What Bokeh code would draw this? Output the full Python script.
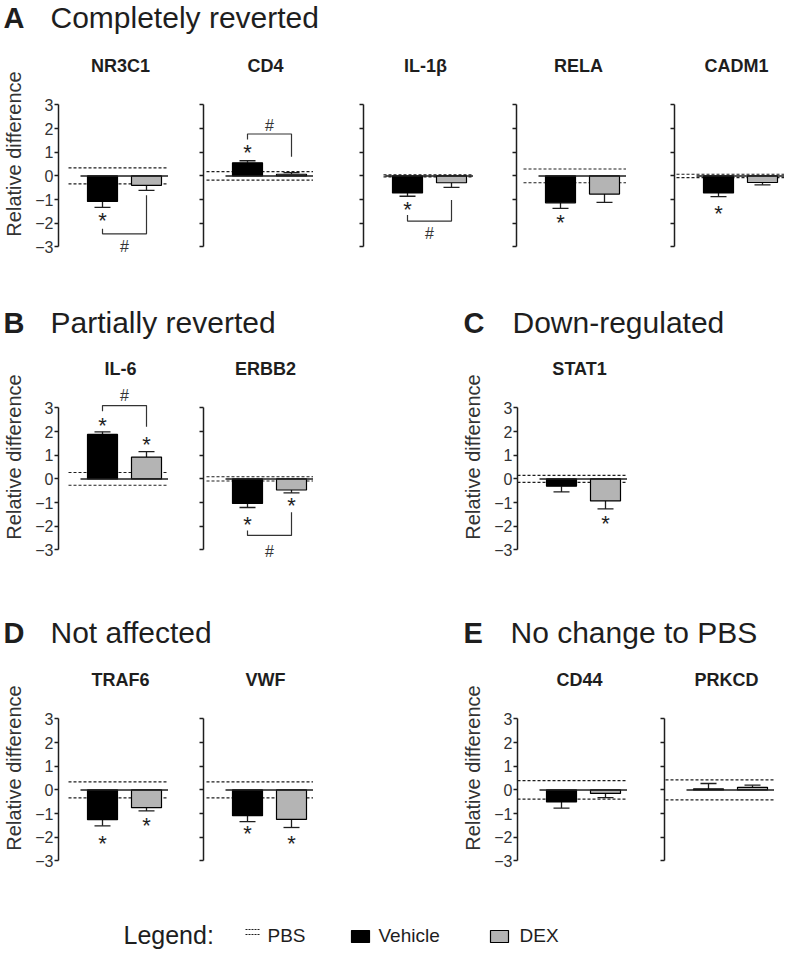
from bokeh.plotting import figure
from bokeh.models import Range1d, FixedTicker, Spacer, Whisker, TeeHead, ColumnDataSource
from bokeh.layouts import column, row
from bokeh.embed import file_html
from bokeh.resources import INLINE
from bokeh.core.properties import value

# ---------------- data ----------------
genes = ["NR3C1", "CD4", "IL-1β", "RELA", "CADM1", "IL-6", "ERBB2",
         "STAT1", "TRAF6", "VWF", "CD44", "PRKCD"]
vehicle = [-1.08, 0.55, -0.72, -1.14, -0.72, 1.88, -1.04, -0.31, -1.26, -1.09, -0.51, 0.04]
vehicle_err = [0.25, 0.09, 0.14, 0.23, 0.16, 0.11, 0.17, 0.24, 0.26, 0.25, 0.26, 0.23]
dex = [-0.40, 0.07, -0.29, -0.77, -0.28, 0.92, -0.47, -0.93, -0.75, -1.25, -0.15, 0.11]
dex_err = [0.21, 0.07, 0.20, 0.35, 0.10, 0.23, 0.12, 0.34, 0.14, 0.34, 0.18, 0.09]
pbs_sd = [0.34, 0.18, 0.04, 0.29, 0.07, 0.27, 0.09, 0.15, 0.34, 0.34, 0.39, 0.42]
y_ticks = [-3, -2, -1, 0, 1, 2, 3]

# significance vs PBS (*) : gene, group (1 = Vehicle, 2 = DEX), vertical position
star_gene = ["NR3C1", "CD4", "IL-1β", "RELA", "CADM1", "IL-6", "IL-6", "ERBB2", "ERBB2",
             "STAT1", "TRAF6", "TRAF6", "VWF", "VWF"]
star_group = [1, 1, 1, 1, 1, 1, 2, 1, 2, 2, 1, 2, 1, 2]
star_y = [-1.75, 1.09, -1.30, -1.84, -1.47, 2.37, 1.59, -1.83, -0.99, -1.76, -2.15, -1.38, -1.73, -2.13]

# significance Vehicle vs DEX (#) brackets
hash_gene = ["NR3C1", "CD4", "IL-1β", "IL-6", "ERBB2"]
hash_left_y = [-2.24, 1.54, -1.65, 2.86, -2.18]
hash_right_y = [-0.82, 0.81, -1.02, 2.20, -1.41]
hash_bar_y = [-2.45, 1.77, -1.91, 3.10, -2.39]
hash_text_y = [-2.95, 2.15, -2.40, 3.56, -3.03]

# ---------------- style / layout ----------------
FONT = "Liberation Sans"
INK = "#1e1e1e"
GRAY = "#b4b4b4"
Y0, Y1 = -3.45, 5.3
FRAME_H = 207
PXU = FRAME_H / (Y1 - Y0)
SLOT = 44.0
FIRST = 44.0
BAR_W = 30.0 / SLOT
STAR_FS, HASH_FS = 22, 16
STAR_OFF = 2.8 / PXU
HASH_OFF = 0.8 / PXU
TITLE_Y = 4.65


def panel(gene, left, frame_w, labels, dash_px):
    i = genes.index(gene)
    xs0 = 1 - FIRST / SLOT
    xs1 = 1 + (frame_w - FIRST) / SLOT
    p = figure(frame_width=frame_w, frame_height=FRAME_H,
               x_range=Range1d(xs0, xs1), y_range=Range1d(Y0, Y1),
               output_backend="svg", toolbar_location=None,
               min_border_left=left, min_border_right=0,
               min_border_top=0, min_border_bottom=0,
               x_axis_location=None, outline_line_color=None,
               background_fill_color="white", border_fill_color="white")
    p.xgrid.visible = False
    p.ygrid.visible = False
    ax = p.yaxis[0]
    ax.bounds = (-3, 3)
    ax.ticker = FixedTicker(ticks=y_ticks)
    ax.major_tick_in = 0
    ax.major_tick_out = 4
    ax.minor_tick_line_color = None
    ax.axis_line_width = 1.5
    ax.axis_line_color = INK
    ax.major_tick_line_width = 1.3
    ax.major_tick_line_color = INK
    ax.major_label_text_font = FONT
    ax.major_label_text_font_size = "16px"
    ax.major_label_standoff = 1
    if labels:
        ax.major_label_text_color = "#333333"
        ax.axis_label = "Relative difference"
        ax.axis_label_text_font = FONT
        ax.axis_label_text_font_size = "20px"
        ax.axis_label_text_font_style = "normal"
        ax.axis_label_text_color = "#333333"
        ax.axis_label_standoff = 7
    else:
        ax.major_label_text_color = None

    xd0 = 1 - (FIRST - dash_px) / SLOT
    p.segment(x0=[xd0, xd0], x1=[xs1, xs1], y0=[pbs_sd[i], -pbs_sd[i]],
              y1=[pbs_sd[i], -pbs_sd[i]], line_dash="3 2", line_width=1.2, line_color=INK)

    vals = [vehicle[i], dex[i]]
    errs = [vehicle_err[i], dex_err[i]]
    ends = [v + (e if v >= 0 else -e) for v, e in zip(vals, errs)]
    src = ColumnDataSource(dict(x=[1, 2], top=vals, end=ends, color=["black", GRAY]))
    p.add_layout(Whisker(source=src, base="x", upper="top", lower="end",
                         upper_head=None,
                         lower_head=TeeHead(size=16, line_width=1.3, line_color=INK),
                         line_width=1.3, line_color=INK))
    p.vbar(x="x", top="top", bottom=0, width=BAR_W, fill_color="color",
           line_color="black", line_width=1.2, source=src)
    xb0 = 1 - (FIRST - 22) / SLOT
    p.segment(x0=[xb0], x1=[xs1], y0=[0], y1=[0], line_width=1.5, line_color=INK)

    sx = [g for gg, g in zip(star_gene, star_group) if gg == gene]
    sy = [y - STAR_OFF for gg, y in zip(star_gene, star_y) if gg == gene]
    if sx:
        p.text(x=sx, y=sy, text=["*"] * len(sx), text_font=value(FONT),
               text_font_size=f"{STAR_FS}px", text_align="center",
               text_baseline="alphabetic", text_color=INK)
    if gene in hash_gene:
        k = hash_gene.index(gene)
        p.multi_line(xs=[[1, 1, 2, 2]],
                     ys=[[hash_left_y[k], hash_bar_y[k], hash_bar_y[k], hash_right_y[k]]],
                     line_width=1.2, line_color="#333333")
        p.text(x=[1.5], y=[hash_text_y[k] - HASH_OFF], text=["#"], text_font=value(FONT),
               text_font_size=f"{HASH_FS}px", text_align="center",
               text_baseline="alphabetic", text_color="#333333")

    p.text(x=[1.41], y=[TITLE_Y], text=[gene], text_font=value(FONT),
           text_font_size="18px", text_font_style="bold", text_align="center",
           text_baseline="alphabetic", text_color=INK)
    return p


def header(h, letters, titles, xs_letter, xs_title, y):
    p = figure(frame_width=787, frame_height=h, x_range=Range1d(0, 787),
               y_range=Range1d(0, h), output_backend="svg", toolbar_location=None,
               min_border=0, x_axis_location=None, y_axis_location=None,
               outline_line_color=None)
    p.xgrid.visible = False
    p.ygrid.visible = False
    p.text(x=xs_letter, y=[y] * len(letters), text=letters, text_font=value(FONT),
           text_font_size="29px", text_font_style="bold", text_color=INK,
           text_baseline="alphabetic")
    p.text(x=xs_title, y=[y] * len(titles), text=titles, text_font=value(FONT),
           text_font_size="30px", text_color=INK, text_baseline="alphabetic")
    return p


hA = header(50, ["A"], ["Completely reverted"], [3], [50], 33)
rowA = row([
    panel("NR3C1", 57, 110, True, 10),
    panel("CD4", 35, 110, False, 3),
    panel("IL-1β", 50, 110, False, 20),
    panel("RELA", 43, 110, False, 7),
    panel("CADM1", 48, 110, False, 2),
], spacing=0)

hBC = header(96, ["B", "C"], ["Partially reverted", "Down-regulated"], [3, 463], [50, 512], 31)
rowBC = row([
    panel("IL-6", 57, 110, True, 10),
    panel("ERBB2", 35, 110, False, 3),
    Spacer(width=146, height=FRAME_H),
    panel("STAT1", 57, 110, True, 0),
], spacing=0)

hDE = header(104, ["D", "E"], ["Not affected", "No change to PBS"], [3, 463], [50, 510], 32)
rowDE = row([
    panel("TRAF6", 57, 110, True, 10),
    panel("VWF", 35, 110, False, 3),
    Spacer(width=146, height=FRAME_H),
    panel("CD44", 57, 110, True, 0),
    panel("PRKCD", 37, 110, False, 1),
], spacing=0)

# legend
LH = 82
lg = figure(frame_width=787, frame_height=LH, x_range=Range1d(0, 787), y_range=Range1d(0, LH),
            output_backend="svg", toolbar_location=None, min_border=0,
            x_axis_location=None, y_axis_location=None, outline_line_color=None)
lg.xgrid.visible = False
lg.ygrid.visible = False
lg.text(x=[123], y=[19], text=["Legend:"], text_font=value(FONT), text_font_size="25px",
        text_color=INK, text_baseline="alphabetic")
lg.segment(x0=[245, 245], x1=[260, 260], y0=[24, 19], y1=[24, 19], line_dash="2 1",
           line_width=1.2, line_color=INK)
lg.quad(left=[351, 490], right=[369, 508], bottom=[11, 11], top=[23, 23],
        fill_color=["black", GRAY], line_color="black", line_width=1.2)
lg.text(x=[267, 378, 519], y=[18.5, 18.5, 18.5], text=["PBS", "Vehicle", "DEX"],
        text_font=value(FONT), text_font_size="19px", text_color=INK,
        text_baseline="alphabetic")

layout = column([hA, rowA, hBC, rowBC, hDE, rowDE, lg], spacing=0)
open("out.html", "w").write(file_html(layout, INLINE))
